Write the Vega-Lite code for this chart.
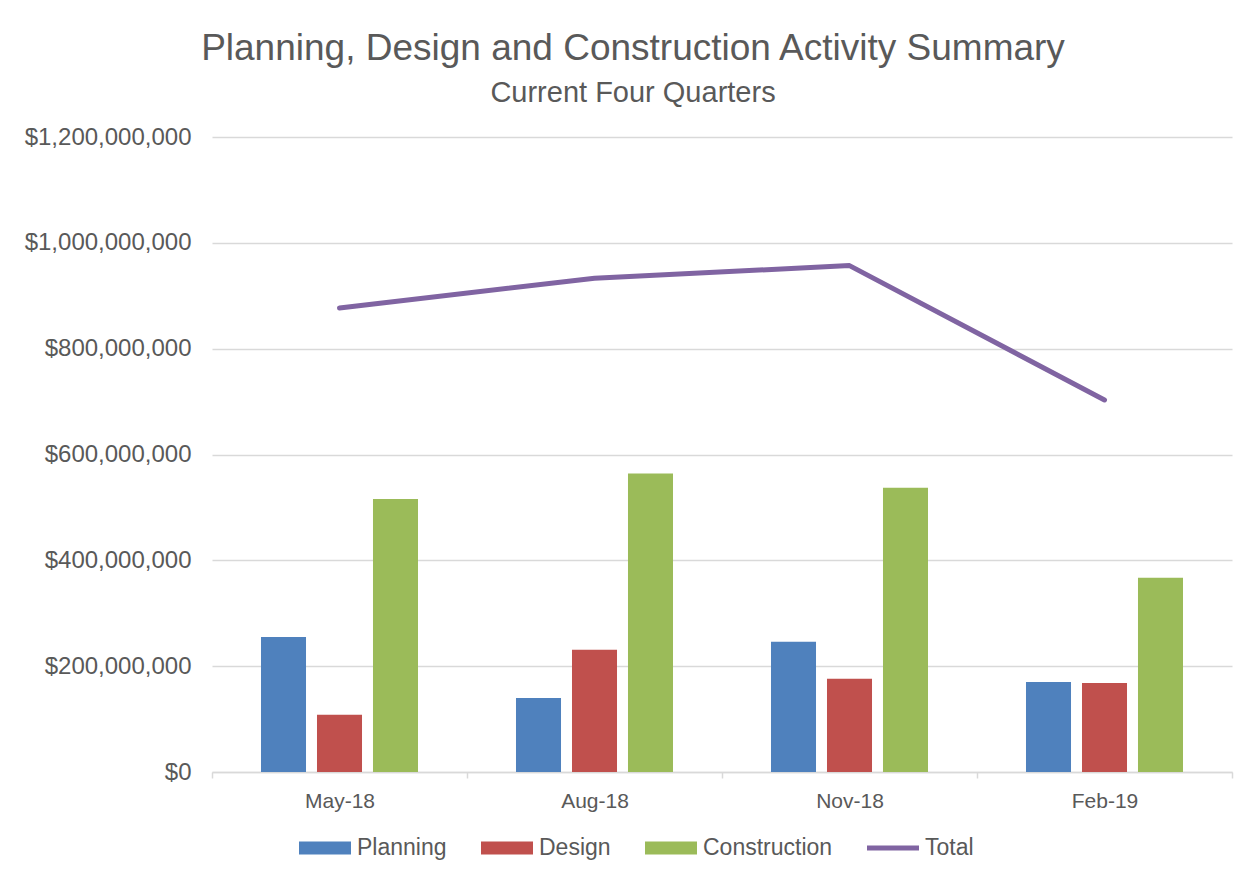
{
  "$schema": "https://vega.github.io/schema/vega-lite/v6.json",
  "autosize": "none",
  "width": 1020,
  "height": 635,
  "padding": {"left": 212, "top": 137, "right": 28, "bottom": 106},
  "background": "white",
  "title": {
    "text": "Planning, Design and Construction Activity Summary",
    "subtitle": "Current Four Quarters",
    "anchor": "middle",
    "dx": -89,
    "offset": 16,
    "fontSize": 37,
    "subtitleFontSize": 29,
    "font": "Liberation Sans",
    "subtitleFont": "Liberation Sans",
    "fontWeight": "normal",
    "color": "#595959",
    "subtitleColor": "#595959",
    "subtitlePadding": 11
  },
  "data": {
    "values": [
      {"quarter": "May-18", "series": "Planning", "value": 255000000},
      {"quarter": "May-18", "series": "Design", "value": 108000000},
      {"quarter": "May-18", "series": "Construction", "value": 516000000},
      {"quarter": "May-18", "series": "Total", "value": 877000000},
      {"quarter": "Aug-18", "series": "Planning", "value": 140000000},
      {"quarter": "Aug-18", "series": "Design", "value": 231000000},
      {"quarter": "Aug-18", "series": "Construction", "value": 564000000},
      {"quarter": "Aug-18", "series": "Total", "value": 933000000},
      {"quarter": "Nov-18", "series": "Planning", "value": 246000000},
      {"quarter": "Nov-18", "series": "Design", "value": 176000000},
      {"quarter": "Nov-18", "series": "Construction", "value": 537000000},
      {"quarter": "Nov-18", "series": "Total", "value": 957000000},
      {"quarter": "Feb-19", "series": "Planning", "value": 170000000},
      {"quarter": "Feb-19", "series": "Design", "value": 168000000},
      {"quarter": "Feb-19", "series": "Construction", "value": 367000000},
      {"quarter": "Feb-19", "series": "Total", "value": 703000000}
    ]
  },
  "encoding": {
    "x": {
      "field": "quarter",
      "type": "nominal",
      "sort": ["May-18", "Aug-18", "Nov-18", "Feb-19"],
      "scale": {"paddingInner": 0, "paddingOuter": 0},
      "axis": {
        "title": null,
        "labelAngle": 0,
        "labelFontSize": 21,
        "labelFont": "Liberation Sans",
        "labelColor": "#595959",
        "labelPadding": 12,
        "domainColor": "#D9D9D9",
        "domainWidth": 1.5,
        "ticks": true,
        "tickBand": "extent",
        "tickSize": 6,
        "tickColor": "#D9D9D9",
        "tickWidth": 1.5,
        "grid": false
      }
    },
    "y": {
      "field": "value",
      "type": "quantitative",
      "scale": {"domain": [0, 1200000000], "nice": false},
      "axis": {
        "title": null,
        "values": [0, 200000000, 400000000, 600000000, 800000000, 1000000000, 1200000000],
        "format": "$,.0f",
        "labelFontSize": 24,
        "labelFont": "Liberation Sans",
        "labelColor": "#595959",
        "labelPadding": 21,
        "domain": false,
        "ticks": false,
        "grid": true,
        "gridColor": "#D9D9D9",
        "gridWidth": 1.5
      }
    },
    "color": {
      "field": "series",
      "type": "nominal",
      "scale": {
        "domain": ["Planning", "Design", "Construction", "Total"],
        "range": ["#4F81BD", "#C0504D", "#9BBB59", "#8064A2"]
      },
      "legend": {
        "title": null,
        "orient": "none",
        "direction": "horizontal",
        "legendX": 87,
        "legendY": 685,
        "labelFontSize": 23,
        "labelFont": "Liberation Sans",
        "labelColor": "#595959",
        "labelOffset": 6,
        "columnPadding": 34,
        "symbolSize": 2704,
        "symbolType": "M-1,-0.25L1,-0.25L1,0.25L-1,0.25Z",
        "encode": {
          "symbols": {
            "update": {
              "shape": {"signal": "datum.value === 'Total' ? 'M-1,-0.1L1,-0.1L1,0.1L-1,0.1Z' : 'M-1,-0.25L1,-0.25L1,0.25L-1,0.25Z'"},
              "fill": {"signal": "scale('color', datum.value)"},
              "strokeWidth": {"value": 0},
              "opacity": {"value": 1},
              "fillOpacity": {"value": 1}
            }
          }
        }
      }
    }
  },
  "layer": [
    {
      "transform": [{"filter": "datum.series !== 'Total'"}],
      "mark": {"type": "bar"},
      "encoding": {
        "xOffset": {
          "field": "series",
          "type": "nominal",
          "sort": ["Planning", "Design", "Construction"],
          "scale": {"paddingInner": 0.196, "paddingOuter": 0.875}
        }
      }
    },
    {
      "transform": [{"filter": "datum.series === 'Total'"}],
      "mark": {"type": "line", "strokeWidth": 5, "strokeCap": "round", "strokeJoin": "round"},
      "encoding": {}
    }
  ],
  "config": {
    "view": {"stroke": null},
    "font": "Liberation Sans"
  }
}
